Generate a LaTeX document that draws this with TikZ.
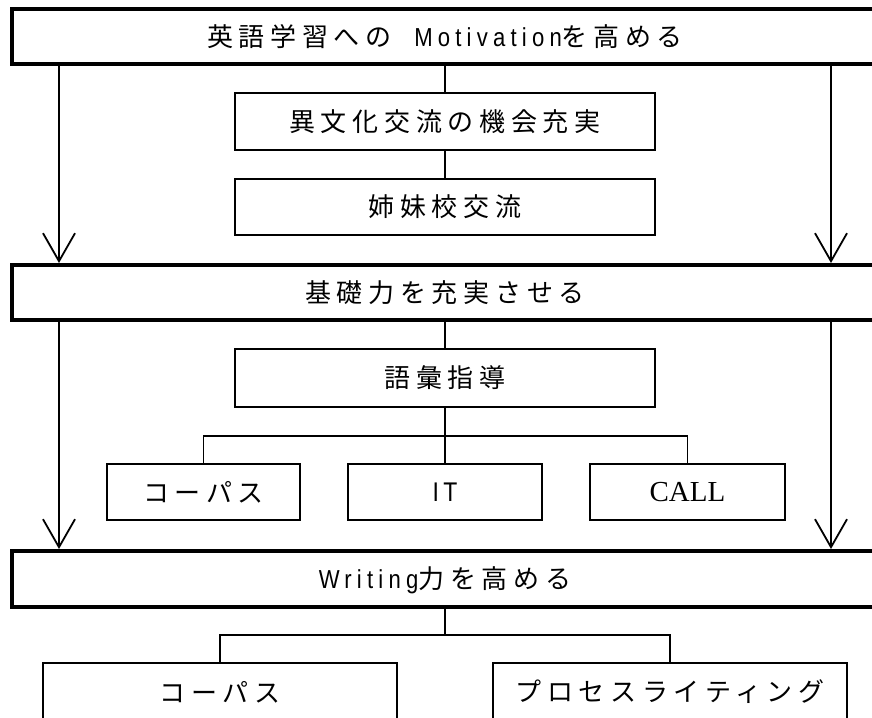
\documentclass[tikz,border=0pt]{standalone}
\usepackage{fontspec}
\usetikzlibrary{arrows.meta}
\newfontfamily\jpf[LetterSpace=22]{Noto Sans CJK JP}
\newfontfamily\latf[FakeStretch=0.85,LetterSpace=20]{Liberation Sans}
\newfontfamily\serf{Liberation Serif}
\begin{document}
\begin{tikzpicture}[x=1pt,y=-1pt,
  band/.style={draw,line width=4pt,rectangle,inner sep=0pt,minimum width=888pt},
  box/.style={draw,line width=2pt,rectangle,inner sep=0pt},
  lbl/.style={inner sep=0pt,font=\jpf\fontsize{26pt}{30pt}\selectfont},
  conn/.style={line width=1.8pt},
  arr/.style={line width=1.8pt,-{Straight Barb[length=28pt,width=32pt,line width=1.8pt]}}]
\useasboundingbox (0,0) rectangle (872,717);
% bands
\node[band,minimum height=54.5pt] (band1) at (456,36.75) {};
\node[band,minimum height=55pt] (band2) at (456,292.5) {};
\node[band,minimum height=56pt] (band3) at (456,579) {};
\node[lbl] (t1) at (445,37) {英語学習への{\latf\ \ Motivation}を高める};
\node[lbl] (t2) at (445,293) {基礎力を充実させる};
\node[lbl] (t3) at (445,580) {{\latf Writing}力を高める};
% boxes
\node[box,minimum width=420pt,minimum height=57pt,lbl] (b1) at (445,121.5) {異文化交流の機会充実};
\node[box,minimum width=420pt,minimum height=56pt,lbl] (b2) at (445,207) {姉妹校交流};
\node[box,minimum width=420pt,minimum height=58pt,lbl] (voc) at (445,378) {語彙指導};
\node[box,minimum width=193pt,minimum height=56pt,lbl] (s1) at (203.5,492) {コーパス};
\node[box,minimum width=194pt,minimum height=56pt,lbl,font=\latf\fontsize{27pt}{30pt}\selectfont] (s2) at (445,492) {I\,T};
\node[box,minimum width=195pt,minimum height=56pt,lbl,font=\serf\fontsize{29pt}{32pt}\selectfont] (s3) at (687.5,492) {CALL};
\node[box,minimum width=354pt,minimum height=97pt] (w1) at (220,711.5) {};
\node[box,minimum width=354pt,minimum height=97pt] (w2) at (670,711.5) {};
\node[lbl] (wt1) at (220,692) {コーパス};
\node[lbl] (wt2) at (670,692) {プロセスライティング};
% coordinates
\coordinate (L) at (59,0);
\coordinate (R) at (831,0);
\coordinate (J1) at (445,436);
\coordinate (J2) at (445,635);
% connectors
\draw[conn] (b1.north |- band1.south) -- (b1.north);
\draw[conn] (b1.south) -- (b2.north);
\draw[conn] (voc.north |- band2.south) -- (voc.north);
\draw[conn] (voc.south) -- (s2.north);
\draw[conn] (s1.north) |- (J1) -| (s3.north);
\draw[conn] (J2 |- band3.south) -- (J2);
\draw[conn] (w1.north) |- (J2) -| (w2.north);
\draw[arr] (L |- band1.south) -- (L |- band2.north);
\draw[arr] (R |- band1.south) -- (R |- band2.north);
\draw[arr] (L |- band2.south) -- (L |- band3.north);
\draw[arr] (R |- band2.south) -- (R |- band3.north);
\end{tikzpicture}
\end{document}
